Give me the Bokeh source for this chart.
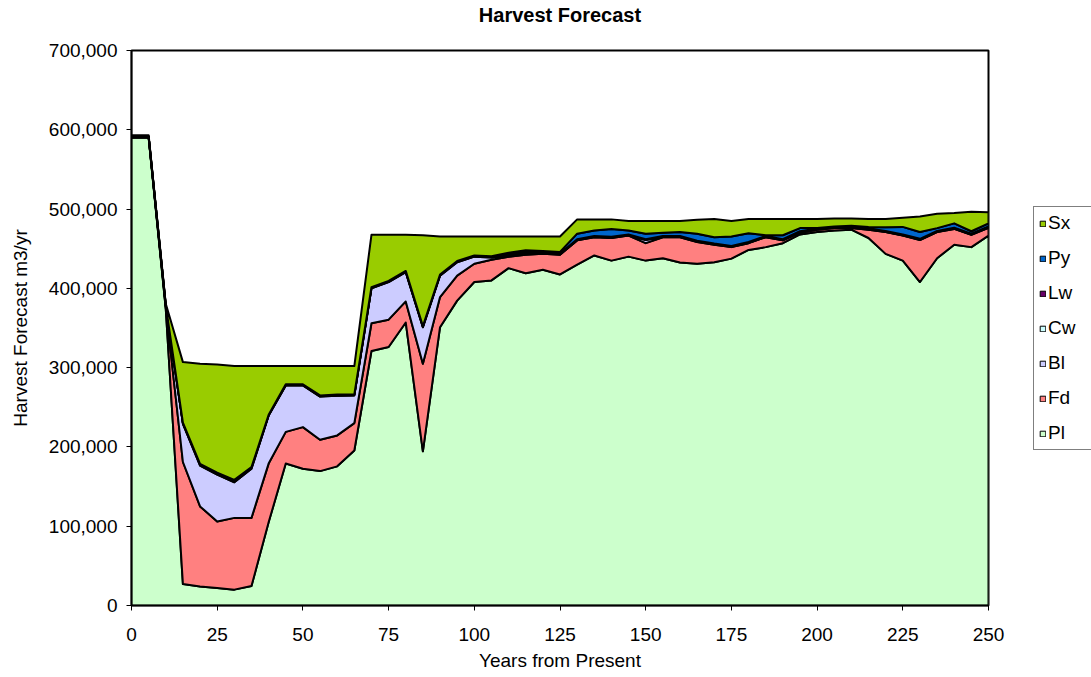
from bokeh.plotting import figure
from bokeh.layouts import row
from bokeh.models import Legend, LegendItem, NumeralTickFormatter, FixedTicker, Range1d, LinearAxis
from bokeh.embed import file_html
from bokeh.resources import INLINE

years = list(range(0, 251, 5))

pl = [590, 590, 374, 27, 24, 22, 20, 24.5, 105, 179, 172.5, 169.5, 175.5, 195.5, 321, 326, 357,
      194.5, 351, 384.5, 408, 410, 425.5, 419, 423.5, 417.5, 430, 441.5, 435, 440, 435, 438,
      432.5, 431, 433, 437.5, 448.5, 452, 457, 468, 471, 473, 474, 463.5, 443.5, 435, 408,
      438, 455, 452, 466.5]
fd = [1, 1, 2, 154, 101, 84, 90.5, 86, 74, 40, 52.5, 39.5, 39, 34.5, 35, 34.5, 26.5,
      110.5, 38, 31.5, 23, 26, 14.5, 23.5, 20, 25, 30.5, 23, 28.5, 26.5, 22, 26.5,
      32, 27.5, 22, 14.5, 8.5, 12.5, 3.5, 2.5, 3, 3, 2, 10.5, 27.5, 31.5, 53,
      33, 20, 15.5, 10]
bl = [0.5, 0.5, 2, 48, 51.5, 59, 45, 62, 60.5, 58.5, 52.5, 54.5, 50, 35, 44, 47.5, 37,
      46, 27, 17, 9, 3, 2, 1.5, 0.5, 0.5, 0.5, 0.5, 0.5, 0.5, 4, 0.5,
      0.5, 0.5, 0.5, 0.5, 0.5, 0.5, 0.5, 0.5, 0.5, 0.5, 0.5, 0.5, 0.5, 0.5, 0.5,
      0.5, 0.5, 0.5, 0.5]
cw = [0, 0, 0.5, 1, 1.5, 2, 2.5, 1.5, 0.5, 0.5, 0.5, 0.5, 0.5, 0.5, 0.5, 0.5, 0.5,
      0.5, 0.5, 0.5, 0.5, 0.5, 1, 1, 0.5, 0.5, 0.5, 0.5, 0.5, 0.5, 0.5, 0.5,
      0.5, 0.5, 0.5, 0.5, 0.5, 0.5, 0.5, 0.5, 0.5, 0.5, 0.5, 0.5, 0.5, 0.5, 0.5,
      0.5, 0.5, 0.5, 0.5]
lw = [0, 0, 0, 0.5, 0.5, 0.5, 0.5, 0.5, 0.5, 0.5, 0.5, 0.5, 0.5, 0.5, 0.5, 0.5, 0.5,
      0.5, 0.5, 0.5, 0.5, 0.5, 1, 2, 0.5, 0.5, 0.5, 0.5, 0.5, 0.5, 0.5, 0.5,
      0.5, 0.5, 0.5, 0.5, 0.5, 0.5, 0.5, 0.5, 0.5, 0.5, 0.5, 0.5, 0.5, 0.5, 0.5,
      0.5, 0.5, 0.5, 0.5]
py = [0, 0, 0, 0, 0, 0, 0, 0, 0, 0.5, 0.5, 0.5, 0.5, 0.5, 0.5, 0.5, 0.5,
      0.5, 0.5, 0.5, 0.5, 0.5, 1, 1, 2, 2, 7, 7, 10, 5, 7, 4,
      5, 9, 8, 12, 11, 1, 5, 4, 0.5, 0.5, 1.5, 2, 4.5, 9.5, 8.5,
      3.5, 5.5, 3, 4]
sx = [1.5, 1.5, 2, 76.5, 126.5, 136.5, 143.5, 127.5, 61.5, 23, 23, 37, 36, 35.5, 66, 58, 45.5,
      114.5, 48, 31, 24, 25, 20.5, 17.5, 18.5, 19.5, 18, 14, 12, 12, 16, 15,
      14, 17.5, 23, 19.5, 18, 20.5, 20.5, 11.5, 11.5, 10, 9, 10, 10.5, 11.5, 19.5,
      18, 13, 24.5, 14]

species = ["Pl", "Fd", "Bl", "Cw", "Lw", "Py", "Sx"]
series = [pl, fd, bl, cw, lw, py, sx]
colors = ["#CCFFCC", "#FF8080", "#CCCCFF", "#CCFFFF", "#660066", "#0066CC", "#99CC00"]
title_text = "Harvest Forecast"

FONT = "Liberation Sans"

p = figure(width=1032, height=677, output_backend="svg", toolbar_location=None,
           x_range=Range1d(0, 250), y_range=Range1d(0, 700000),
           min_border_left=131, min_border_right=44, min_border_top=50, min_border_bottom=72)

p.xgrid.visible = False
p.ygrid.visible = False
p.outline_line_color = "black"
p.outline_line_width = 2
p.background_fill_color = "white"
p.border_fill_color = "white"

xa = p.below[0]
ya = p.left[0]

# chart title, placed in the band above the plot frame
top_axis = LinearAxis(ticker=FixedTicker(ticks=[]), axis_label=title_text,
                      axis_line_color=None, major_tick_line_color=None, minor_tick_line_color=None,
                      major_tick_out=0, major_tick_in=0, major_label_text_font_size="0px",
                      axis_label_standoff=25, axis_label_text_font=FONT,
                      axis_label_text_font_size="20px", axis_label_text_font_style="bold",
                      axis_label_text_color="black")
p.add_layout(top_axis, "above")

# stacked polygons (bottom/top boundaries from cumulative sums)
polys = []
bottom = [0.0] * len(years)
for name, vals, col in zip(species, series, colors):
    top = [b + v * 1000 for b, v in zip(bottom, vals)]
    xs = years + years[::-1]
    ys = top + bottom[::-1]
    polys.append((xs, ys))
    p.patch(x=xs, y=ys, fill_color=col, line_color="black", line_width=2, line_join="round")
    bottom = top

for ax in (xa, ya):
    ax.axis_line_color = "black"
    ax.axis_line_width = 1.5
    ax.major_tick_line_color = "black"
    ax.major_tick_out = 5
    ax.major_tick_in = 0
    ax.minor_tick_line_color = None
    ax.major_label_text_font = FONT
    ax.major_label_text_font_size = "19px"
    ax.major_label_text_color = "black"
    ax.axis_label_text_font = FONT
    ax.axis_label_text_font_size = "19px"
    ax.axis_label_text_font_style = "normal"
    ax.axis_label_text_color = "black"

xa.ticker = FixedTicker(ticks=list(range(0, 251, 25)))
ya.ticker = FixedTicker(ticks=list(range(0, 700001, 100000)))
ya.formatter = NumeralTickFormatter(format="0,0")
xa.axis_label = "Years from Present"
ya.axis_label = "Harvest Forecast m3/yr"
xa.major_label_standoff = 17
ya.major_label_standoff = 9
xa.axis_label_standoff = 6
ya.axis_label_standoff = 15

# legend panel at the right edge (its renderers lie outside its own view range)
lg = figure(width=59, height=677, output_backend="svg", toolbar_location=None,
            x_axis_type=None, y_axis_type=None, x_range=Range1d(-2, -1), y_range=Range1d(-2, -1),
            min_border_left=0, min_border_right=0, min_border_top=0, min_border_bottom=0)
lg.xgrid.visible = False
lg.ygrid.visible = False
lg.outline_line_color = None
lg.background_fill_color = "white"
lg.border_fill_color = "white"

swatches = {}
for name, col, (xs, ys) in zip(species, colors, polys):
    swatches[name] = lg.patch(x=xs, y=ys, fill_color=col, line_color="black", line_width=1)

items = [LegendItem(label=n, renderers=[swatches[n]]) for n in species[::-1]]
legend = Legend(items=items, location=(1, 155), orientation="vertical")
legend.label_text_font = FONT
legend.label_text_font_size = "19px"
legend.label_text_color = "black"
legend.glyph_width = 7
legend.glyph_height = 7
legend.label_height = 22
legend.label_width = 60
legend.label_standoff = 2
legend.spacing = 13
legend.padding = 5
legend.margin = 0
legend.border_line_color = "black"
legend.border_line_width = 1
legend.background_fill_color = "white"
legend.background_fill_alpha = 1
lg.add_layout(legend, "center")

layout = row(p, lg, spacing=0)
open("out.html", "w").write(file_html(layout, INLINE))
